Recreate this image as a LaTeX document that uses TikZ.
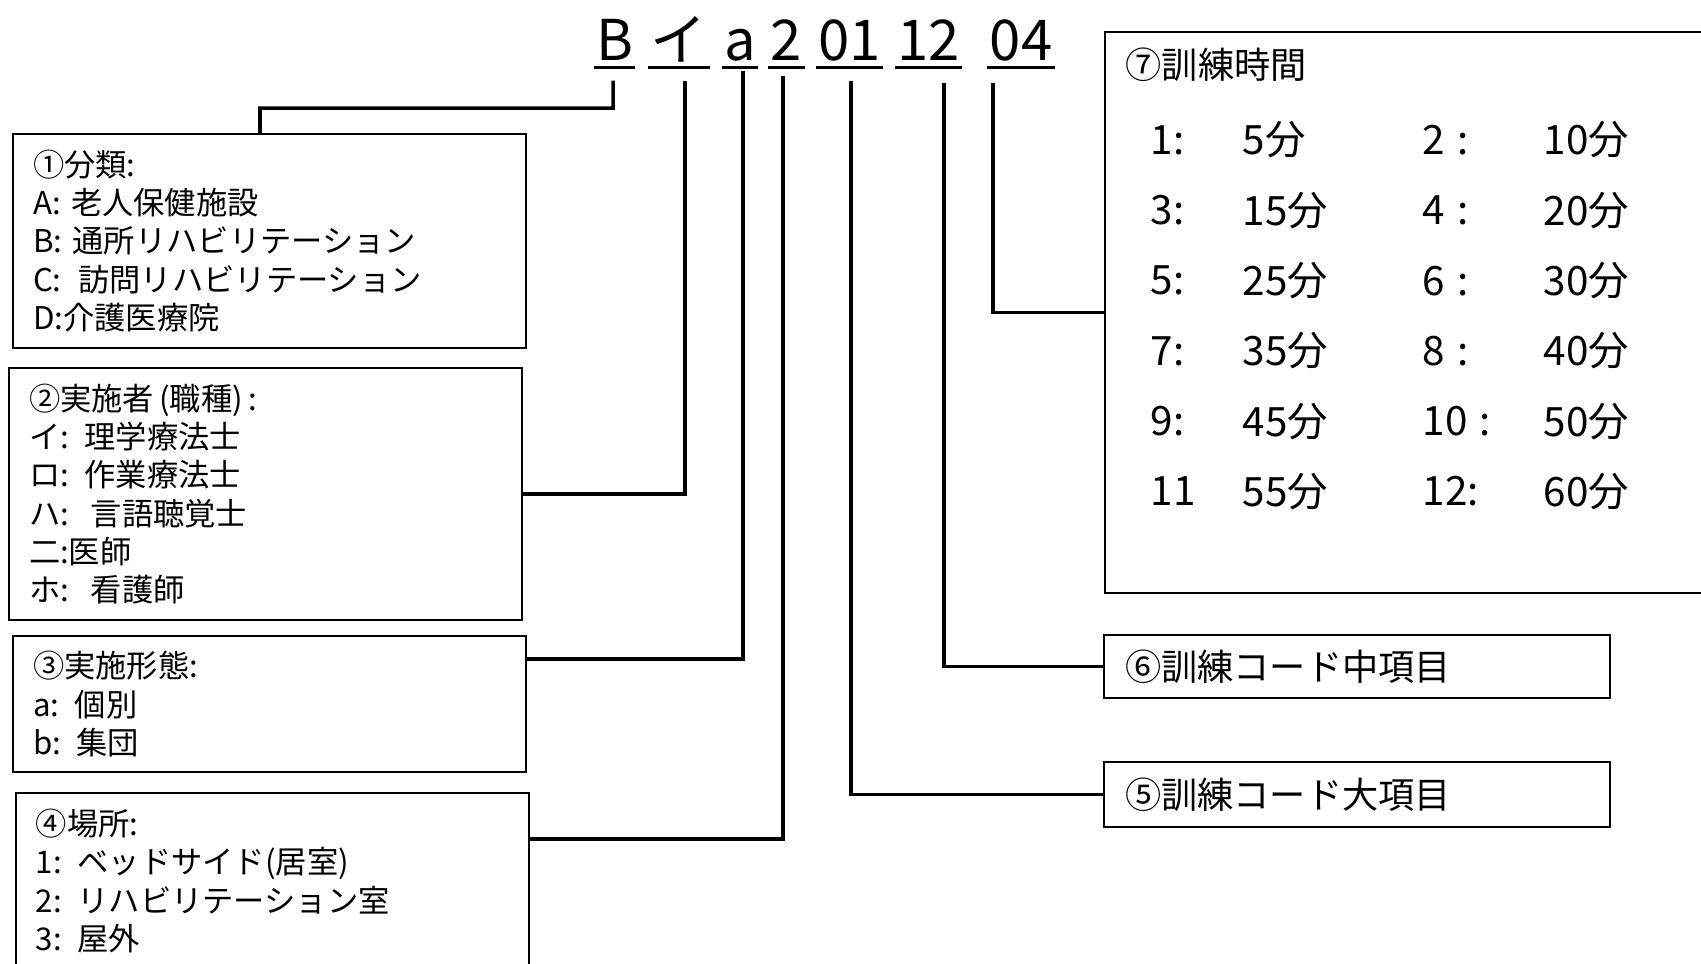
\documentclass[tikz,border=0pt]{standalone}
\usepackage{fontspec}
\setmainfont{Noto Sans CJK JP}
\begin{document}
\begin{tikzpicture}[
    codechar/.style={anchor=base, inner xsep=0.5pt, inner ysep=0.07cm, text depth=0pt,
                     font=\fontsize{16}{19}\selectfont},
    infobox/.style={draw, line width=0.5pt, align=left, inner xsep=0.2cm, inner ysep=0pt,
                    font=\fontsize{8.9}{10.9}\selectfont},
    titletext/.style={anchor=west, inner sep=0pt, font=\fontsize{10.3}{12}\selectfont},
    gridtext/.style={anchor=west, inner sep=0pt, font=\fontsize{11.5}{13}\selectfont},
    conn/.style={line width=1pt},
    uline/.style={line width=0.85pt}
  ]
  \useasboundingbox (0,0) rectangle (17.01,-9.63);
  \clip (0,0) rectangle (17.01,-9.63);

  % Drawing the code
  \node[codechar] (cB)  at (6.145,-0.60) {B};%
  \node[codechar] (cI)  at (6.790,-0.60) {イ};%
  \node[codechar] (ca)  at (7.400,-0.60) {a};%
  \node[codechar] (c2)  at (7.865,-0.60) {2};%
  \node[codechar] (c01) at (8.495,-0.60) {01};%
  \node[codechar] (c12) at (9.285,-0.60) {12};%
  \node[codechar] (c04) at (10.210,-0.60) {04};%
  \foreach \c in {cB,cI,ca,c2,c01,c12,c04}
    \draw[uline] (\c.south west) -- (\c.south east);%

  % Drawing left boxes
  \node[infobox, minimum width=5.13cm, minimum height=2.14cm, text width=4.73cm]
    (box1) at (2.695,-2.41)
    {①分類:\\A: 老人保健施設\\B: 通所リハビリテーション\\C:\hspace{0.2em} 訪問リハビリテーション\\D:介護医療院};%
  \node[infobox, minimum width=5.13cm, minimum height=2.52cm, text width=4.73cm]
    (box2) at (2.655,-4.94)
    {②実施者\,(職種)\,:\\イ: 理学療法士\\ロ: 作業療法士\\ハ:\hspace{0.2em} 言語聴覚士\\二:医師\\ホ:\hspace{0.2em} 看護師};%
  \node[infobox, minimum width=5.13cm, minimum height=1.36cm, text width=4.73cm]
    (box3) at (2.695,-7.04)
    {③実施形態:\\a: 個別\\b: 集団};%
  \node[infobox, minimum width=5.13cm, minimum height=1.76cm, text width=4.73cm,
        anchor=north west]
    (box4) at (0.15,-7.92)
    {④場所:\\1: ベッドサイド(居室)\\2: リハビリテーション室\\3: 屋外};%

  % Drawing right boxes
  \node[draw, line width=0.5pt, anchor=west, minimum width=7cm, minimum height=5.61cm]
    (box7) at (11.04,-3.125) {};%
  \node[titletext] (t7) at (11.25,-0.65) {⑦訓練時間};%
  \foreach \r/\la/\va/\lb/\vb in {0/1:/5分/2\hspace{0.3em}:/10分,1/3:/15分/4\hspace{0.3em}:/20分,
                                   2/5:/25分/6\hspace{0.3em}:/30分,3/7:/35分/8\hspace{0.3em}:/40分,
                                   4/9:/45分/10\hspace{0.3em}:/50分,5/11/55分/12:/60分}{
    \node[gridtext] (la\r) at (11.50,{-1.40-0.703*\r}) {\la};%
    \node[gridtext] (va\r) at (12.42,{-1.40-0.703*\r}) {\va};%
    \node[gridtext] (lb\r) at (14.22,{-1.40-0.703*\r}) {\lb};%
    \node[gridtext] (vb\r) at (15.43,{-1.40-0.703*\r}) {\vb};%
  }
  \node[infobox, font=\fontsize{10.3}{12}\selectfont, inner xsep=0.21cm,
        minimum width=5.06cm, minimum height=0.63cm, text width=4.64cm]
    (box6) at (13.57,-6.665) {⑥訓練コード中項目};%
  \node[infobox, font=\fontsize{10.3}{12}\selectfont, inner xsep=0.21cm,
        minimum width=5.06cm, minimum height=0.65cm, text width=4.64cm]
    (box5) at (13.57,-7.945) {⑤訓練コード大項目};%

  % Drawing connectors
  \draw[conn] ([xshift=-0.015cm,yshift=-0.13cm]cB.south) |- (2.60,-1.08)
    -- ([xshift=-0.095cm]box1.north);%
  \draw[conn] ([xshift=0.06cm,yshift=-0.13cm]cI.south) |- (box2.east);%
  \draw[conn] ([xshift=0.03cm,yshift=-0.03cm]ca.south) |- ([yshift=-0.24cm]box3.north east);%
  \draw[conn] ([xshift=-0.035cm,yshift=-0.08cm]c2.south) |- ([yshift=-0.47cm]box4.north east);%
  \draw[conn] ([xshift=0.015cm,yshift=-0.13cm]c01.south) |- (box5.west);%
  \draw[conn] ([xshift=0.155cm,yshift=-0.15cm]c12.south) |- (box6.west);%
  \draw[conn] ([xshift=-0.28cm,yshift=-0.15cm]c04.south) |- (box7.west);%
\end{tikzpicture}
\end{document}
